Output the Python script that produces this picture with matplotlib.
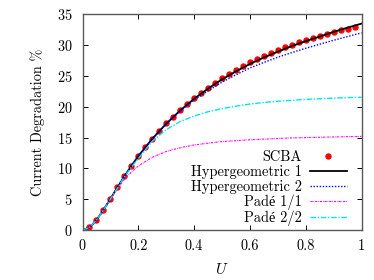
import matplotlib
matplotlib.use("Agg")
import matplotlib.pyplot as plt

plt.rcParams['font.family'] = ['cmr10', 'Liberation Serif']
plt.rcParams['mathtext.fontset'] = 'cm'
plt.rcParams['axes.formatter.use_mathtext'] = True

# SCBA data points
scba_u = [0.025, 0.05, 0.075, 0.1, 0.125, 0.15, 0.175, 0.2, 0.225, 0.25,
          0.275, 0.3, 0.325, 0.35, 0.375, 0.4, 0.425, 0.45, 0.475, 0.5,
          0.525, 0.55, 0.575, 0.6, 0.625, 0.65, 0.675, 0.7, 0.725, 0.75,
          0.775, 0.8, 0.825, 0.85, 0.875, 0.9, 0.925, 0.95, 0.975]
scba = [0.44, 1.62, 3.25, 5.05, 6.9, 8.7, 10.4, 12.0, 13.5, 14.8,
        16.1, 17.3, 18.4, 19.5, 20.45, 21.4, 22.3, 23.05, 23.9, 24.6,
        25.3, 25.9, 26.6, 27.2, 27.7, 28.3, 28.8, 29.2, 29.65, 30.1,
        30.5, 30.85, 31.2, 31.55, 31.8, 32.2, 32.5, 32.7, 32.9]

# approximation curves
u = [0, 0.025, 0.05, 0.075, 0.1, 0.125, 0.15, 0.175, 0.2, 0.25, 0.3, 0.35,
     0.4, 0.45, 0.5, 0.55, 0.6, 0.65, 0.7, 0.75, 0.8, 0.85, 0.9, 0.95, 1.0]
hyp1 = [0, 0.4, 1.6, 3.25, 5.05, 6.9, 8.7, 10.4, 12.0, 14.8, 17.25, 19.4,
        21.3, 22.95, 24.45, 25.75, 26.95, 28.0, 28.95, 29.85, 30.65, 31.4,
        32.15, 32.85, 33.5]
hyp2 = [0, 0.4, 1.6, 3.25, 5.05, 6.9, 8.7, 10.4, 12.0, 14.8, 17.2, 19.3,
        21.1, 22.6, 24.0, 25.2, 26.3, 27.2, 28.05, 28.8, 29.5, 30.15,
        30.8, 31.4, 32.0]
pade11 = [0, 0.4, 1.6, 3.2, 5.0, 6.7, 8.2, 9.4, 10.4, 11.8, 12.75, 13.35,
          13.8, 14.1, 14.35, 14.5, 14.65, 14.75, 14.85, 14.95, 15.0, 15.05,
          15.1, 15.15, 15.2]
pade22 = [0, 0.4, 1.6, 3.2, 5.0, 6.8, 8.6, 10.2, 11.6, 14.4, 16.3, 17.6,
          18.5, 19.2, 19.7, 20.1, 20.45, 20.7, 20.9, 21.05, 21.2, 21.3,
          21.4, 21.5, 21.55]

xticks = [0, 0.2, 0.4, 0.6, 0.8, 1]
xticklabels = ['0', '0.2', '0.4', '0.6', '0.8', '1']
yticks = [0, 5, 10, 15, 20, 25, 30, 35]

fig = plt.figure(figsize=(3.74, 2.80), dpi=100)
ax = fig.add_axes([0.2206, 0.1786, 0.7460, 0.7700])

ax.plot(scba_u, scba, 'o', color='#ff0000', markersize=3.6, label='SCBA')
ax.plot(u, hyp1, '-', color='black', lw=1.3, label='Hypergeometric 1')
ax.plot(u, hyp2, color='#0000ff', lw=1.0, linestyle=(0, (1, 1.2)),
        label='Hypergeometric 2')
ax.plot(u, pade11, color='#ff00ff', lw=0.8, linestyle=(0, (2, 0.8, 0.6, 0.8)),
        label='Padé 1/1')
ax.plot(u, pade22, color='#00e8e8', lw=1.0, linestyle=(0, (4, 1.2, 1, 1.2)),
        label='Padé 2/2')

ax.set_xlim(0, 1)
ax.set_ylim(0, 35)
ax.set_xticks(xticks)
ax.set_xticklabels(xticklabels)
ax.set_yticks(yticks)
ax.tick_params(direction='in', length=3.5, width=0.7, top=True, right=True,
               labelsize=10.3, pad=7)
for s in ax.spines.values():
    s.set_linewidth(1.0)
    s.set_color('0.35')

ax.set_xlabel('$U$', fontsize=11, labelpad=6)
ax.set_ylabel('Current Degradation %', fontsize=10.3, labelpad=9)

leg = ax.legend(loc='lower right', bbox_to_anchor=(0.985, -0.03), frameon=False,
                markerfirst=False, fontsize=10.4, handlelength=2.6,
                handletextpad=0.55, labelspacing=0.06, borderpad=0.2,
                numpoints=1)

fig.savefig('out.png', dpi=100)
